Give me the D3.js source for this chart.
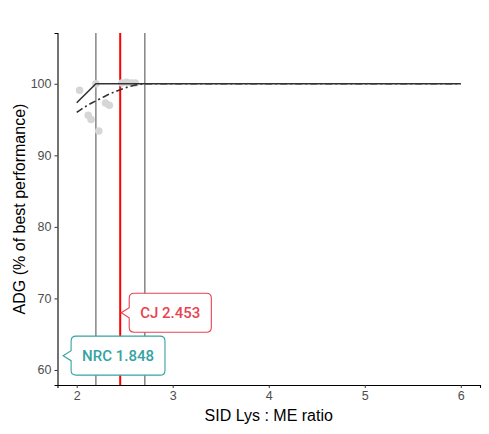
<!DOCTYPE html>
<html>
<head>
<meta charset="utf-8">
<script src="https://cdn.jsdelivr.net/npm/d3@7"></script>
<style>
  body { margin: 0; background: #fff; }
  svg text { font-family: "Liberation Sans", Arial, sans-serif; }
</style>
</head>
<body>
<svg id="chart" width="489" height="434"></svg>
<script>
// observed points (ratio, % of best)
const obsX = [2.03, 2.12, 2.15, 2.20, 2.23, 2.30, 2.34, 2.47, 2.52, 2.57, 2.61];
const obsY = [99.1, 95.6, 95.0, 100.0, 93.4, 97.3, 97.0, 100.1, 100.2, 100.1, 100.1];

// broken-line fit
const brokenX = [2.0, 2.2, 6.0];
const brokenY = [97.35, 100, 100];

// quadratic-plateau fit
const quadX = [2.0, 2.1, 2.2, 2.3, 2.4, 2.5, 2.6, 2.71, 6.0];
const quadY = [96.0, 96.9, 97.6, 98.3, 98.9, 99.4, 99.8, 100, 100];

const refLines = [2.2, 2.71];
const cjValue = 2.453;
const labels = [
  {text: "CJ  2.453", x: 2.453, y: 68, color: "#E8434F"},
  {text: "NRC 1.848", x: 1.848, y: 62, color: "#36A3A3"}
];

const xTicks = [2, 3, 4, 5, 6];
const yTicks = [60, 70, 80, 90, 100];

let svg = d3.select("#chart");
let margin = {top: 33, right: 9, bottom: 49, left: 57.5};
let width = +svg.attr("width") - margin.left - margin.right;
let height = +svg.attr("height") - margin.top - margin.bottom;
let g = svg.append("g").attr("transform", "translate(" + margin.left + "," + margin.top + ")");

var x = d3.scaleLinear().domain([1.8, 6.2]).range([0, width]),
    y = d3.scaleLinear().domain([57.9, 107.1]).range([height, 0]);

// reference lines
g.selectAll(".ref").data(refLines).enter().append("line")
    .attr("x1", d => x(d)).attr("x2", d => x(d))
    .attr("y1", 0).attr("y2", height)
    .attr("stroke", "#333").attr("stroke-width", 0.9);

g.append("line")
    .attr("x1", x(cjValue)).attr("x2", x(cjValue))
    .attr("y1", 0).attr("y2", height)
    .attr("stroke", "#FF0000").attr("stroke-width", 2);

// points
g.selectAll(".pt").data(obsX).enter().append("circle")
    .attr("cx", d => x(d))
    .attr("cy", (d, i) => y(obsY[i]))
    .attr("r", 3.8)
    .attr("fill", "#D6D6D6");

var line = d3.line()
    .x(d => x(d[0]))
    .y(d => y(d[1]));

g.append("path")
    .attr("d", line(brokenX.map((v, i) => [v, brokenY[i]])))
    .attr("fill", "none").attr("stroke", "#333").attr("stroke-width", 1.6);

g.append("path")
    .attr("d", line.curve(d3.curveMonotoneX)(quadX.map((v, i) => [v, quadY[i]])))
    .attr("fill", "none").attr("stroke", "#333").attr("stroke-width", 1.6)
    .attr("stroke-dasharray", "7,3,2,3");

// axes
let xAxis = g.append("g")
    .attr("transform", "translate(0," + height + ")")
    .call(d3.axisBottom(x).tickValues(xTicks).tickSize(3).tickPadding(3).tickFormat(d3.format("d")));
let yAxis = g.append("g")
    .call(d3.axisLeft(y).tickValues(yTicks).tickSize(3).tickPadding(3).tickFormat(d3.format("d")));

[xAxis, yAxis].forEach(a => {
  a.select(".domain").attr("stroke", "#000").attr("stroke-width", 1.1);
  a.selectAll(".tick line").attr("stroke", "#333");
  a.selectAll(".tick text").attr("fill", "#4D4D4D")
    .style("font-size", "12.5px").style("font-family", "Liberation Sans, Arial, sans-serif");
});

// labels with pointer boxes
labels.forEach(l => {
  let tx = x(l.x) + 1, ty = y(l.y);
  let lab = g.append("g").attr("transform", "translate(" + tx + "," + ty + ")");
  let t = lab.append("text")
      .attr("dy", "0.35em")
      .attr("fill", l.color)
      .style("font-family", "Roboto, sans-serif")
      .style("font-weight", 500)
      .style("font-size", "15px")
      .text(l.text);
  let tw = t.node().getComputedTextLength();
  let ax = 8, pad = 11;
  t.attr("x", ax + pad);
  let bw = tw + 2 * pad, bh = 39, r = 5, ah = 5;
  let bx = ax, by = -bh / 2;
  let p = "M0,0 L" + ax + "," + (-ah) +
    " L" + ax + "," + (by + r) + " Q" + ax + "," + by + " " + (ax + r) + "," + by +
    " L" + (bx + bw - r) + "," + by + " Q" + (bx + bw) + "," + by + " " + (bx + bw) + "," + (by + r) +
    " L" + (bx + bw) + "," + (by + bh - r) + " Q" + (bx + bw) + "," + (by + bh) + " " + (bx + bw - r) + "," + (by + bh) +
    " L" + (ax + r) + "," + (by + bh) + " Q" + ax + "," + (by + bh) + " " + ax + "," + (by + bh - r) +
    " L" + ax + "," + ah + " Z";
  lab.insert("path", "text").attr("d", p)
      .attr("fill", "#fff").attr("stroke", l.color).attr("stroke-width", 1.1);
});

// titles
svg.append("text")
    .attr("x", margin.left + width / 2).attr("y", 421)
    .attr("text-anchor", "middle")
    .style("font-size", "16px")
    .text("SID Lys : ME ratio");

svg.append("text")
    .attr("transform", "translate(25," + (margin.top + height / 2) + ") rotate(-90)")
    .attr("text-anchor", "middle")
    .style("font-size", "16px")
    .text("ADG (% of best performance)");
</script>
</body>
</html>
